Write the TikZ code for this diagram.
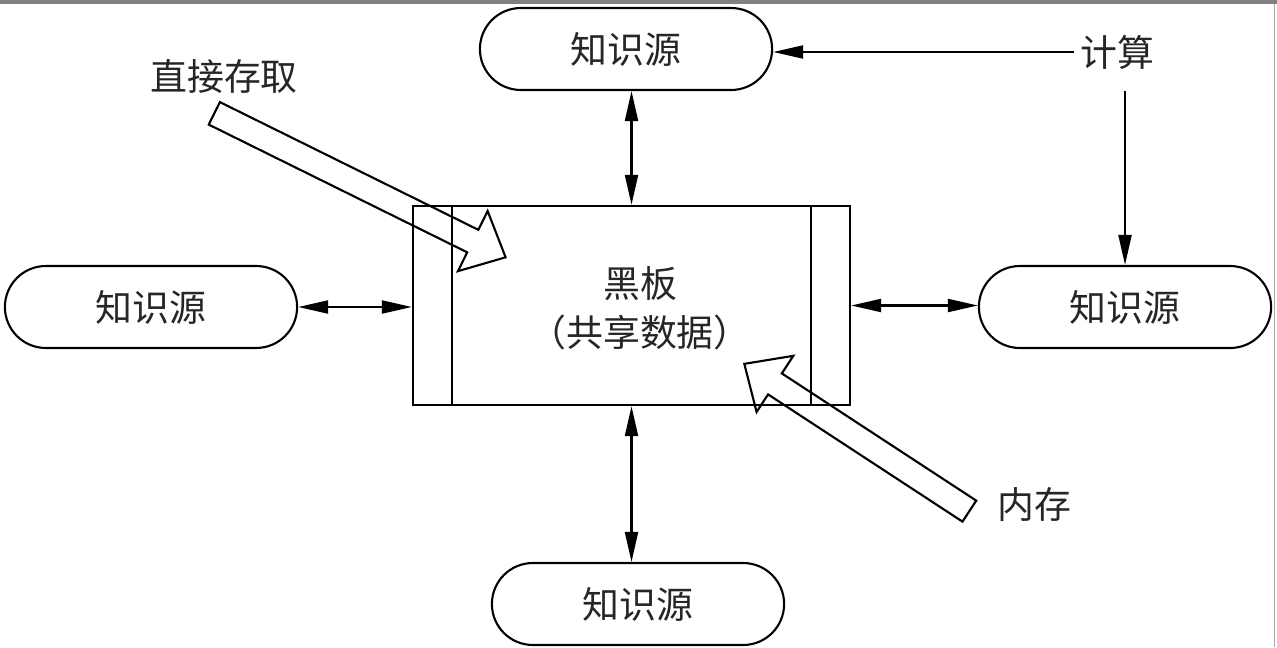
\documentclass[tikz,border=0pt]{standalone}
\usepackage{fontspec}
\newfontfamily\cjk{Noto Sans CJK SC}
\usetikzlibrary{arrows.meta,shapes.misc,shapes.arrows,positioning}

\tikzset{
  ks/.style={rounded rectangle, draw, line width=1.2pt,
    minimum width=6.08cm, minimum height=1.64cm, font=\cjk\fontsize{21}{28}\selectfont, text=black!85},
  lbl/.style={font=\cjk\fontsize{21}{28}\selectfont, text=black!85},
  link/.style={line width=1.2pt, {Triangle[length=6mm,width=2.6mm]}-{Triangle[length=6mm,width=2.6mm]}},
  feed/.style={line width=1.2pt, -{Triangle[length=6mm,width=2.6mm]}},
  hollow/.style={single arrow, draw, line width=1.2pt, inner sep=0.23cm,
    single arrow head extend=0.42cm, single arrow tip angle=85, minimum width=0pt},
}

\begin{document}
\begin{tikzpicture}[x=0.02cm, y=0.02cm]
    \useasboundingbox (0,0) rectangle (1277,647);
    \fill[gray] (0,643) rectangle (1277,647);
    \draw[gray!70] (1274,0) -- (1274,643);

    % blackboard
    \node[draw, line width=1.4pt, minimum width=8.74cm, minimum height=3.98cm] (board) at (631.5,341.5) {};
    \draw[line width=1.4pt] ([xshift=0.8cm]board.north west) -- ([xshift=0.8cm]board.south west);
    \draw[line width=1.4pt] ([xshift=-0.8cm]board.north east) -- ([xshift=-0.8cm]board.south east);
    \node[lbl, align=center] (data) at (640,339) {黑板\\（共享数据）};

    % knowledge sources
    \node[ks] (top) at (626,598) {知识源};
    \node[ks] (left) at (151,340) {知识源};
    \node[ks] (right) at (1125,340) {知识源};
    \node[ks] (bottom) at (638,43) {知识源};

    \draw[link] (board.north) -- (board.north |- top.south);
    \draw[link] (left.east) -- (left.east -| board.west);
    \draw[link] (board.east) -- (board.east -| right.west);
    \draw[link] (board.south) -- (board.south |- bottom.north);

    % control
    \node[lbl] (calc) at (1117,595) {计算};
    \draw[feed] (calc.west) -- (calc.west -| top.east);
    \draw[feed] ([yshift=-0.32cm]calc.south -| right.north) -- (right.north);

    % access
    \node[lbl] (direct) at (224,571) {直接存取};
    \node[lbl] (mem) at (1034,142) {内存};
    \node[hollow, rotate=-26.3, minimum height=6.5cm, anchor=tip] (directarrow) at (507,389) {};
    \node[hollow, rotate=146.8, minimum height=5.38cm, anchor=tip] (memarrow) at (743,284) {};
\end{tikzpicture}
\end{document}
